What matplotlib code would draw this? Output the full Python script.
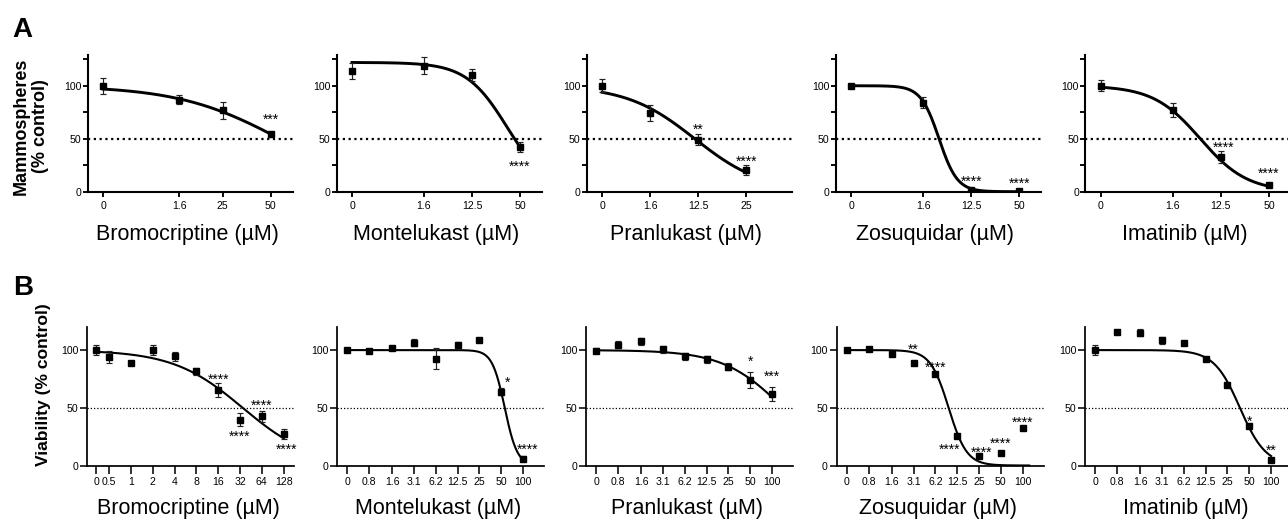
import numpy as np
import matplotlib
matplotlib.use('Agg')
import matplotlib.pyplot as plt

plt.rcParams['font.family'] = ['Liberation Sans', 'DejaVu Sans']

drugs = ['Bromocriptine', 'Montelukast', 'Pranlukast', 'Zosuquidar', 'Imatinib']

# A: mammospheres (% control)
a_doses = [['0', '1.6', '25', '50'],
           ['0', '1.6', '12.5', '50'],
           ['0', '1.6', '12.5', '25'],
           ['0', '1.6', '12.5', '50'],
           ['0', '1.6', '12.5', '50']]
a_mean = [[100, 87, 77, 54],
          [114, 119, 110, 42],
          [100, 74.5, 49, 20.5],
          [100, 84, 2, 1],
          [100, 77, 32.5, 6]]
a_sem = [[7.5, 4.5, 8, 2],
         [7.5, 8, 5.7, 4.5],
         [6, 7.4, 5.2, 4.7],
         [2, 5, 1, 1],
         [5, 6.6, 5.8, 2]]
# (dose index, stars, height of stars)
a_sig = [[(3, '***', 71)],
         [(3, '****', 27)],
         [(2, '**', 62), (3, '****', 31.5)],
         [(2, '****', 13), (3, '****', 11)],
         [(2, '****', 45), (3, '****', 20.5)]]
# fitted curve: top, bottom, midpoint, width (plot x units)
a_fit = [(100, 0, 3.68, 1.07),
         (122, 0, 3.23, 0.426),
         (100, 0, 1.93, 0.71),
         (100, 0, 1.83, 0.19),
         (100, 0, 2.07, 0.49)]

# B: viability (% control)
b_doses = [['0', '0.5', '1', '2', '4', '8', '16', '32', '64', '128'],
           ['0', '0.8', '1.6', '3.1', '6.2', '12.5', '25', '50', '100'],
           ['0', '0.8', '1.6', '3.1', '6.2', '12.5', '25', '50', '100'],
           ['0', '0.8', '1.6', '3.1', '6.2', '12.5', '25', '50', '100'],
           ['0', '0.8', '1.6', '3.1', '6.2', '12.5', '25', '50', '100']]
b_mean = [[100, 94.2, 89, 100, 94.5, 81.8, 65.3, 39.7, 42.5, 27.3],
          [100, 99, 102, 106.4, 92.7, 104.7, 109, 64, 6],
          [99.5, 104.5, 107.7, 100.8, 94.8, 92, 85.6, 74, 62],
          [100, 100.8, 96.5, 89.2, 79, 25.2, 8.5, 10.5, 32.4],
          [100, 115.3, 115, 108.5, 106.2, 92.2, 70, 34.3, 4.7]]
b_sem = [[4.6, 5, 1.5, 4, 4, 3, 5.8, 5.8, 4.6, 4],
         [1, 1, 1.5, 3, 8.7, 2, 1, 3, 2],
         [2, 3, 3, 3, 3, 3, 3, 6.7, 6],
         [2, 1.5, 1.5, 1.5, 1.5, 1, 1, 1, 1],
         [4, 1.5, 3, 3, 2, 2, 1, 1, 1]]
b_sig = [[(6, '****', 77), (7, '****', 28), (8, '****', 55), (9, '****', 17)],
         [(7, '*', 74.5), (8, '****', 16.5)],
         [(7, '*', 93), (8, '***', 79.6)],
         [(3, '**', 103), (4, '****', 87.7), (5, '****', 17), (6, '****', 14.6),
          (7, '****', 22), (8, '****', 40)],
         [(7, '*', 41), (8, '**', 15.7)]]
b_fit = [(100, 0, 6.73, 1.6),
         (100, 0, 7.235, 0.287),
         (100, 0, 8.58, 1.376),
         (100, 0, 4.675, 0.417),
         (100, 0, 6.643, 0.592)]

# ---- layout (pixels of the 1288x523 figure) ----
W, H = 1288, 523
a_left = [87.7, 336.5, 586.6, 835.7, 1085.4]
b_left = [87.3, 337.3, 586.4, 837.0, 1085.4]
a_xpos = [[0, 1.58, 2.49, 3.49], [0, 1.5, 2.5, 3.5], [0, 1, 2, 3],
          [0, 1.5, 2.5, 3.5], [0, 1.5, 2.5, 3.5]]
b_xpos = [[0] + [0.61 + k for k in range(9)]] + [[0, 1] + [2.07 + k for k in range(7)]] * 4
b_xlim = [(-0.4, 9.1)] + [(-0.445, 9.05)] * 4
b_curve_end = [0, 0, 0, 0.3, 0]
star_nudge = {('A', 4, 2): 2.5, ('B', 0, 9): 2.5, ('B', 1, 7): 6, ('B', 1, 8): 5,
              ('B', 3, 5): -8, ('B', 3, 6): 3}

fig = plt.figure(figsize=(W / 100, H / 100), dpi=100)


def add_px_axes(left, top, width, height):
    return fig.add_axes([left / W, 1 - (top + height) / H, width / W, height / H])


def logistic(x, top, bottom, mid, width):
    return bottom + (top - bottom) / (1 + np.exp((x - mid) / width))


def draw_panel(ax, row, i, xpos, doses, mean, sem, sig, fit, style):
    ax.axhline(50, color='black', ls=(0, (1, 1.6)), lw=style['dot_lw'], zorder=1)
    xs = np.linspace(xpos[0], xpos[-1] + style['curve_end'], 300)
    ax.plot(xs, logistic(xs, *fit), color='black', lw=style['curve_lw'], zorder=3)
    ax.errorbar(xpos, mean, yerr=sem, fmt='s', ms=4.4, color='black',
                ecolor='#222222', elinewidth=0.85, capsize=2.3, capthick=0.85, zorder=4)
    for idx, txt, y in sig:
        dx = star_nudge.get((row, i, idx), 0) * 0.72
        ax.annotate(txt, (xpos[idx], y), xytext=(dx, -5.5), textcoords='offset points',
                    ha='center', va='baseline', fontsize=10, zorder=5)
    ax.set_xticks(xpos)
    ax.set_xticklabels(doses)
    for s in ('top', 'right'):
        ax.spines[s].set_visible(False)
    for s in ('left', 'bottom'):
        ax.spines[s].set_linewidth(style['spine_lw'])
    ax.tick_params(axis='both', labelsize=7.6, width=style['spine_lw'] * 0.9, color='black')
    ax.tick_params(axis='x', length=style['xtick_len'], pad=style['xpad'])
    ax.tick_params(axis='y', length=style['ytick_len'], pad=style['ypad'])
    ax.annotate(drugs[i] + ' (\u00b5M)', (0.5, 0), xycoords='axes fraction',
                xytext=(-2, -35), textcoords='offset points',
                ha='center', va='baseline', fontsize=15.5)


style_a = dict(dot_lw=1.6, curve_lw=2.1, spine_lw=1.5, xtick_len=3.6, ytick_len=3.6,
               xpad=3.0, ypad=1.0, curve_end=0)
for i in range(5):
    ax = add_px_axes(a_left[i], 55, 205, 136.7)
    draw_panel(ax, 'A', i, a_xpos[i], a_doses[i], a_mean[i], a_sem[i], a_sig[i], a_fit[i], style_a)
    ax.set_xlim(-0.323, 3.948)
    ax.set_ylim(0, 129)
    ax.set_yticks([0, 25, 50, 75, 100, 125])
    ax.set_yticklabels(['0', '', '50', '', '100', ''])

for i in range(5):
    st = dict(dot_lw=0.9, curve_lw=1.5, spine_lw=1.25, xtick_len=5.4, ytick_len=5.4,
              xpad=3.0, ypad=1.2, curve_end=b_curve_end[i])
    ax = add_px_axes(b_left[i], 327, 207, 138.5)
    draw_panel(ax, 'B', i, b_xpos[i], b_doses[i], b_mean[i], b_sem[i], b_sig[i], b_fit[i], st)
    ax.set_xlim(*b_xlim[i])
    ax.set_ylim(0, 120)
    ax.set_yticks([0, 50, 100])

fig.text(12 / W, 1 - 37 / H, 'A', fontsize=20, fontweight='bold', va='baseline')
fig.text(13 / W, 1 - 295 / H, 'B', fontsize=20, fontweight='bold', va='baseline')
fig.text(31 / W, 1 - 126 / H, 'Mammospheres\n(% control)', rotation=90, fontsize=13,
         fontweight='bold', ha='center', va='center', multialignment='center', linespacing=1.15)
fig.text(44 / W, 1 - 385 / H, 'Viability (% control)', rotation=90, fontsize=12.6,
         fontweight='bold', ha='center', va='center')

fig.savefig('out.png', dpi=100)
